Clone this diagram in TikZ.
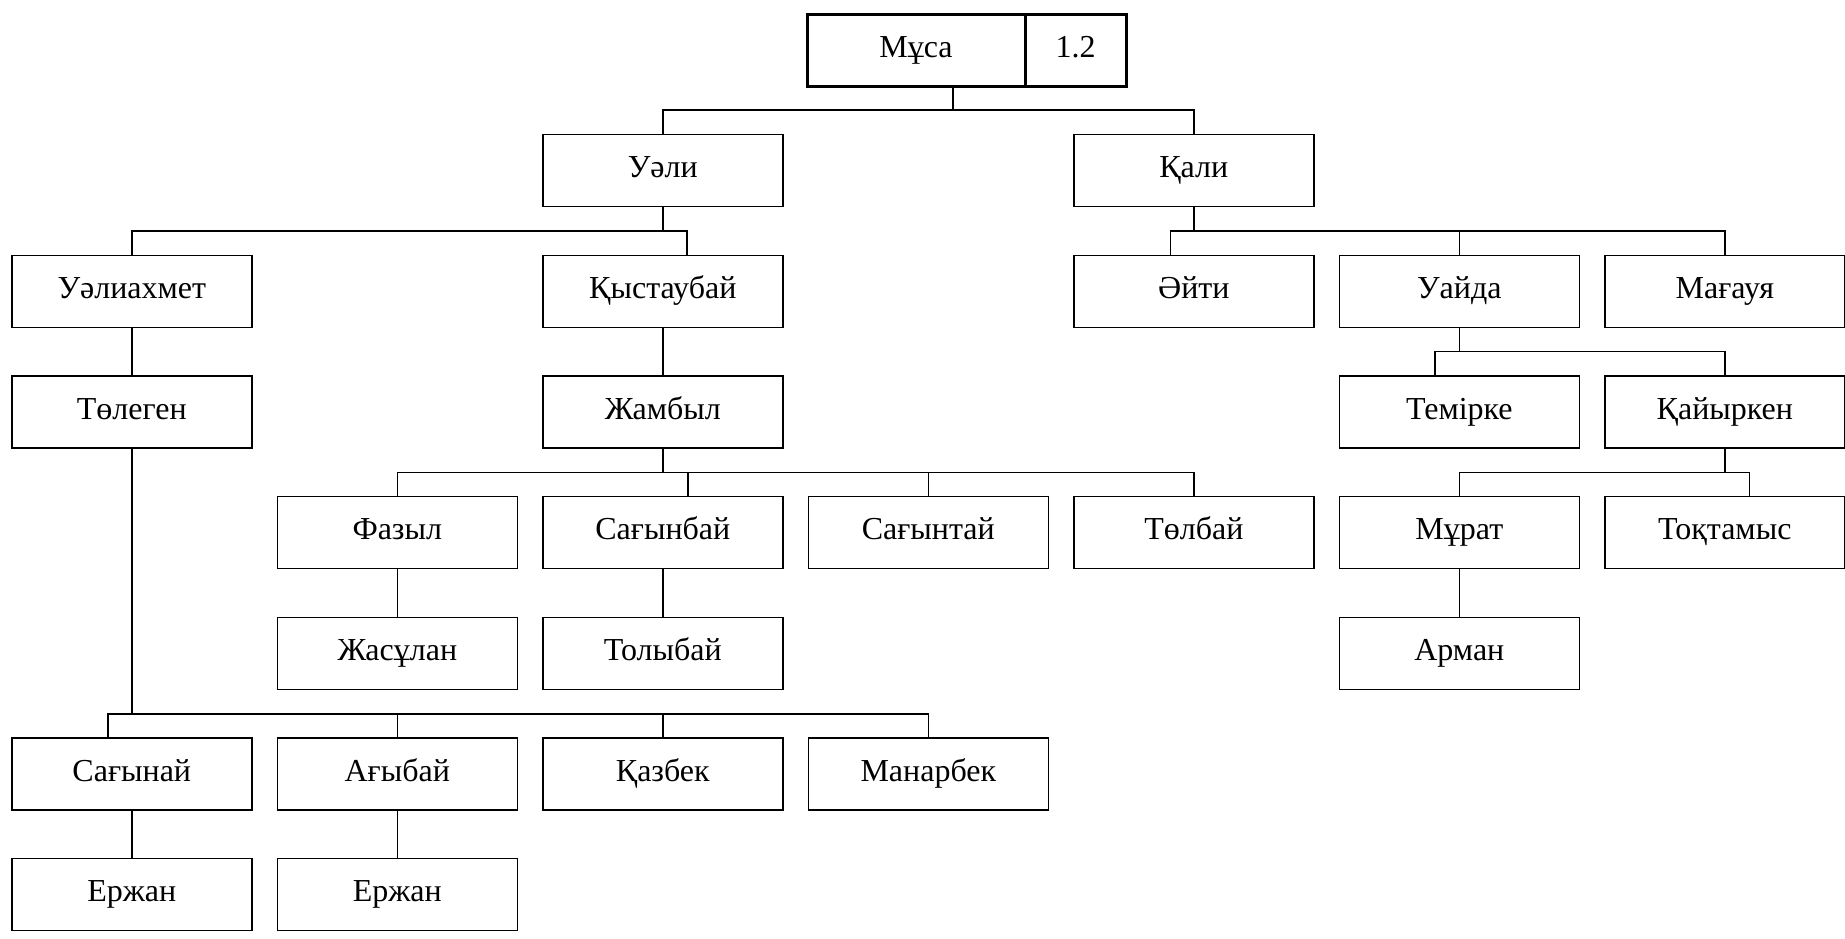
\documentclass[tikz,border=0pt]{standalone}
\usepackage{fontspec}
\setmainfont{Liberation Serif}
\usepackage{tikz}
\definecolor{boxline}{RGB}{0, 0, 0}

\begin{document}
\begin{tikzpicture}[x=0.5pt, y=-0.5pt,
    person/.style={draw=boxline, line width=0.7pt, minimum width=120pt,
                   minimum height=36pt, inner sep=0pt, text height=10.5pt, text depth=3.5pt,
                   font=\fontsize{16}{19}\selectfont},
    link/.style={line width=0.7pt}]
    \useasboundingbox (0,0) rectangle (1845,938);

    % head of the family
    \node[person, line width=1.5pt, minimum width=109pt] (musa) at (916,50) {Мұса};
    \node[person, line width=1.5pt, minimum width=50.5pt] (num) at (1075.5,50) {1.2};

    % sons
    \node[person] (ueli) at (662.8,170.3) {Уәли};
    \node[person] (qali) at (1193.8,170.3) {Қали};

    % grandsons
    \node[person] (ueliakhmet) at (131.8,291.3) {Уәлиахмет};
    \node[person] (qystaubai) at (662.8,291.3) {Қыстаубай};
    \node[person] (aiti) at (1193.8,291.3) {Әйти};
    \node[person] (uaida) at (1459.3,291.3) {Уайда};
    \node[person] (magauya) at (1724.8,291.3) {Мағауя};

    \node[person] (tolegen) at (131.8,412) {Төлеген};
    \node[person] (zhambyl) at (662.8,412) {Жамбыл};
    \node[person] (temirke) at (1459.3,412) {Темірке};
    \node[person] (qaiyrken) at (1724.8,412) {Қайыркен};

    \node[person] (fazyl) at (397.3,532.7) {Фазыл};
    \node[person] (sagynbai) at (662.8,532.7) {Сағынбай};
    \node[person] (sagyntai) at (928.3,532.7) {Сағынтай};
    \node[person] (tolbai) at (1193.8,532.7) {Төлбай};
    \node[person] (murat) at (1459.3,532.7) {Мұрат};
    \node[person] (toqtamys) at (1724.8,532.7) {Тоқтамыс};

    \node[person] (zhasulan) at (397.3,653.3) {Жасұлан};
    \node[person] (tolybai) at (662.8,653.3) {Толыбай};
    \node[person] (arman) at (1459.3,653.3) {Арман};

    \node[person] (sagynai) at (131.8,774) {Сағынай};
    \node[person] (agybai) at (397.3,774) {Ағыбай};
    \node[person] (qazbek) at (662.8,774) {Қазбек};
    \node[person] (manarbek) at (928.3,774) {Манарбек};

    \node[person] (erzhana) at (131.8,894.7) {Ержан};
    \node[person] (erzhanb) at (397.3,894.7) {Ержан};

    % bus points
    \coordinate (b0) at (953,110);
    \coordinate (b1) at (687,231);
    \coordinate (b2) at (1170.6,231);
    \coordinate (b3) at (1435,351.7);
    \coordinate (b4) at (688,472.7);
    \coordinate (b5) at (1749.6,472.7);
    \coordinate (b6) at (108,714);

    % connectors
    \draw[link] (b0) -- (b0 |- musa.south);
    \draw[link] (ueli.north) |- (b0) -| (qali.north);

    \draw[link] (ueli.south) -- (ueli.south |- b1);
    \draw[link] (ueliakhmet.north) |- (b1) -- (b1 |- qystaubai.north);

    \draw[link] (qali.south) -- (qali.south |- b2);
    \draw[link] (b2 |- aiti.north) -- (b2) -| (magauya.north);
    \draw[link] (uaida.north) -- (uaida.north |- b2);

    \draw[link] (uaida.south) -- (uaida.south |- b3);
    \draw[link] (b3 |- temirke.north) -- (b3) -| (qaiyrken.north);

    \draw[link] (ueliakhmet) -- (tolegen);
    \draw[link] (qystaubai) -- (zhambyl);

    \draw[link] (zhambyl.south) -- (zhambyl.south |- b4);
    \draw[link] (fazyl.north) |- (tolbai.north |- b4) -- (tolbai.north);
    \draw[link] (b4) -- (b4 |- sagynbai.north);
    \draw[link] (sagyntai.north) -- (sagyntai.north |- b4);

    \draw[link] (qaiyrken.south) -- (qaiyrken.south |- b5);
    \draw[link] (murat.north) |- (b5) -- (b5 |- toqtamys.north);

    \draw[link] (fazyl) -- (zhasulan);
    \draw[link] (sagynbai) -- (tolybai);
    \draw[link] (murat) -- (arman);

    \draw[link] (tolegen.south) -- (tolegen.south |- b6);
    \draw[link] (b6 |- sagynai.north) -- (b6) -| (manarbek.north);
    \draw[link] (agybai.north) -- (agybai.north |- b6);
    \draw[link] (qazbek.north) -- (qazbek.north |- b6);

    \draw[link] (sagynai) -- (erzhana);
    \draw[link] (agybai) -- (erzhanb);
\end{tikzpicture}
\end{document}
